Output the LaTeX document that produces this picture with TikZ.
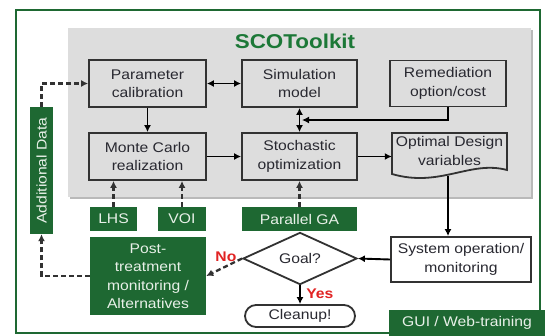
\documentclass[tikz,border=0pt]{standalone}
\usepackage{fontspec}
\setmainfont{Liberation Sans}[FakeStretch=1.12]
\usetikzlibrary{arrows.meta,shapes.geometric,shapes.misc}
\definecolor{dkgreen}{RGB}{30,104,50}
\definecolor{ttlgreen}{RGB}{28,120,55}
\definecolor{panelgray}{RGB}{221,221,221}
\definecolor{edge}{RGB}{50,50,50}
\definecolor{txt}{RGB}{40,40,48}
\definecolor{gtxt}{RGB}{232,240,232}
\definecolor{redlbl}{RGB}{225,35,35}
\tikzset{
  x=1pt,y=-1pt,
  every node/.style={font=\fontsize{14}{18.5}\selectfont},
  graybox/.style={draw=edge,line width=1.8pt,fill=panelgray,text=txt,align=center,inner sep=0pt},
  whitebox/.style={draw=edge,line width=1.8pt,fill=white,text=txt,align=center,inner sep=0pt},
  greenbox/.style={fill=dkgreen,text=gtxt,align=center,inner sep=0pt},
  arr/.style={line width=1.9pt,draw=black,-{Latex[length=7pt,width=7pt]}},
  darr/.style={line width=1.9pt,draw=black,{Latex[length=7pt,width=7pt]}-{Latex[length=7pt,width=7pt]}},
  dasharr/.style={line width=2.3pt,draw=edge,dash pattern=on 5pt off 3pt,-{Latex[length=7pt,width=7pt]}},
  redlab/.style={text=redlbl,font=\fontsize{14}{16}\selectfont\bfseries}
}
\begin{document}
\begin{tikzpicture}
\useasboundingbox (0,0) rectangle (548,335);
\fill[white] (0,0) rectangle (548,335);
% outer frame
\draw[dkgreen,line width=2.2pt] (16,10) rectangle (540,333);
% panel
\fill[gray!55] (70,30) rectangle (533,199);
\fill[panelgray] (68,28) rectangle (531,197);
\node[text=ttlgreen,font=\fontsize{20}{22}\selectfont\bfseries] (title) at (295,41) {SCOToolkit};
% boxes
\node[graybox,minimum width=117,minimum height=47] (pc) at (147.5,83.5) {Parameter\\calibration};
\node[graybox,minimum width=115,minimum height=47] (sim) at (299.5,83.5) {Simulation\\model};
\node[graybox,minimum width=116,minimum height=46] (rem) at (448,83.5) {Remediation\\option/cost};
\node[graybox,minimum width=117,minimum height=47] (mc) at (147.5,156.5) {Monte Carlo\\realization};
\node[graybox,minimum width=115,minimum height=47] (so) at (299.5,156.5) {Stochastic\\optimization};
% document shape
\filldraw[draw=edge,line width=1.8pt,fill=panelgray] (392,133) -- (507,133) -- (507,170) .. controls (470,160) and (440,188) .. (392,174) -- cycle;
\node[inner sep=0pt,minimum width=115,minimum height=40,text=txt,align=center] (od) at (449.5,151) {Optimal Design\\variables};
\coordinate (odb) at (448,176);
% lower
\node[whitebox,minimum width=140,minimum height=45] (sys) at (461,259.5) {System operation/\\monitoring};
\node[draw=edge,line width=1.8pt,fill=white,text=txt,shape=diamond,inner sep=0pt,minimum width=114,minimum height=43] (goal) at (300,258.5) {Goal?};
\node[whitebox,rounded rectangle,minimum width=110,minimum height=22] (clean) at (300,316) {Cleanup!};
\node[greenbox,minimum width=47,minimum height=24] (lhs) at (113.5,219) {LHS};
\node[greenbox,minimum width=48,minimum height=24] (voi) at (182,219) {VOI};
\node[greenbox,minimum width=115,minimum height=24] (pga) at (299.5,219) {Parallel GA};
\node[greenbox,minimum width=116,minimum height=78] (post) at (148,276) {Post-\\treatment\\monitoring /\\Alternatives};
\node[greenbox,minimum width=127,minimum height=23,rotate=90] (add) at (41.5,170.5) {Additional Data};
\node[greenbox,minimum width=156,minimum height=26] (gui) at (467,323) {GUI / Web-training};
% connectors
\draw[darr] (pc) -- (sim);
\draw[arr] (pc) -- (mc);
\draw[arr] (mc) -- (so);
\draw[darr] (so) -- (sim);
\coordinate (j) at (302,120);
\draw[arr] (rem.south) |- (j);
\draw[arr] (so.east) -- (so.east -| od.west);
\draw[arr] (odb) -- (odb |- sys.north);
\draw[arr] (sys.west) -- (goal.east);
\draw[arr] (goal.south) -- (clean.north) node[redlab,pos=0.45,right=2pt] {Yes};
\draw[dasharr] (goal.west) -- (post.east) node[redlab,pos=0.45,above=0pt] {No};
\draw[dasharr] (lhs.north) -- (lhs.north |- mc.south);
\draw[dasharr] (voi.north) -- (voi.north |- mc.south);
\draw[dasharr] (pga.north) -- (so.south);
\draw[dasharr] (post.west) -| (add.west);
\draw[dasharr] (add.east) |- (pc.west);
\end{tikzpicture}
\end{document}
